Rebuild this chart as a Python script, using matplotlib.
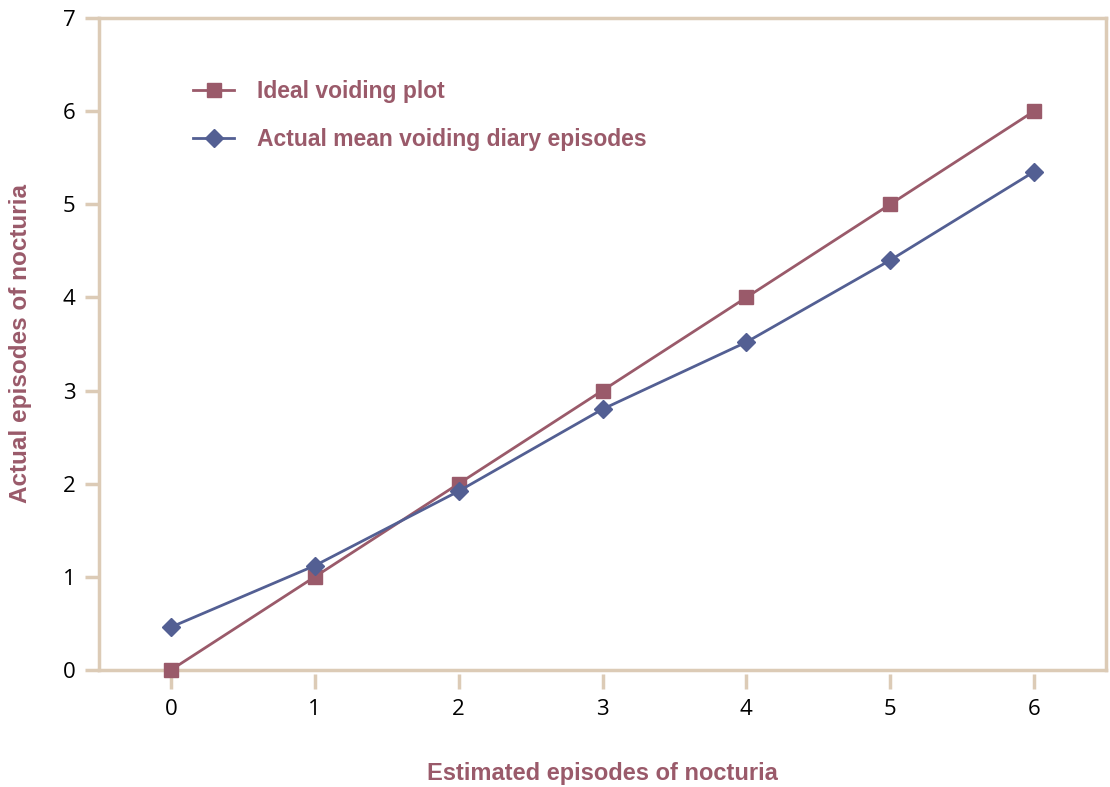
import matplotlib.pyplot as plt

# --- DATA ---
estimated = [0, 1, 2, 3, 4, 5, 6]
ideal = [0, 1, 2, 3, 4, 5, 6]
actual_mean = [0.46, 1.12, 1.92, 2.80, 3.52, 4.40, 5.35]

x_ticks = [0, 1, 2, 3, 4, 5, 6]
y_ticks = [0, 1, 2, 3, 4, 5, 6, 7]

# --- STYLE ---
maroon = '#9a5a6a'
blue = '#535f93'
beige = '#dccbb6'
plt.rcParams['font.family'] = ['Open Sans', 'DejaVu Sans']
bold_font = ['Liberation Sans', 'DejaVu Sans']

fig = plt.figure(figsize=(11.1, 7.87), dpi=100)
ax = fig.add_axes([0.0892, 0.1487, 0.9072, 0.8284])

ax.plot(estimated, ideal, color=maroon, linewidth=2, marker='s', markersize=10,
        label='Ideal voiding plot', clip_on=False, zorder=5)
ax.plot(estimated, actual_mean, color=blue, linewidth=2, marker='D', markersize=9.5,
        label='Actual mean voiding diary episodes', clip_on=False, zorder=5)

ax.set_xlim(-0.5, 6.5)
ax.set_ylim(0, 7)

for s in ax.spines.values():
    s.set_color(beige)
    s.set_linewidth(2.5)

ax.set_yticks(y_ticks)
ax.tick_params(axis='y', length=10, width=2.5, color=beige, labelsize=16, pad=7)
ax.set_xticks(x_ticks)
ax.tick_params(axis='x', length=0, labelbottom=False)

# detached x ticks just below the frame
sec = ax.secondary_xaxis(-0.006)
sec.set_xticks(x_ticks)
sec.spines['bottom'].set_visible(False)
sec.tick_params(axis='x', length=11, width=2.5, color=beige, labelsize=16, pad=7)

ax.set_xlabel('Estimated episodes of nocturia', color=maroon, fontsize=17,
              fontweight='bold', family=bold_font, labelpad=66)
ax.set_ylabel('Actual episodes of nocturia', color=maroon, fontsize=17.5,
              fontweight='bold', family=bold_font, labelpad=22)

leg = ax.legend(loc='upper left', bbox_to_anchor=(0.073, 0.937), frameon=False,
                handlelength=1.8, handletextpad=1.0, labelspacing=1.1,
                prop={'family': bold_font, 'weight': 'bold', 'size': 16.5})
for t in leg.get_texts():
    t.set_color(maroon)

fig.savefig('out.png', dpi=100)
